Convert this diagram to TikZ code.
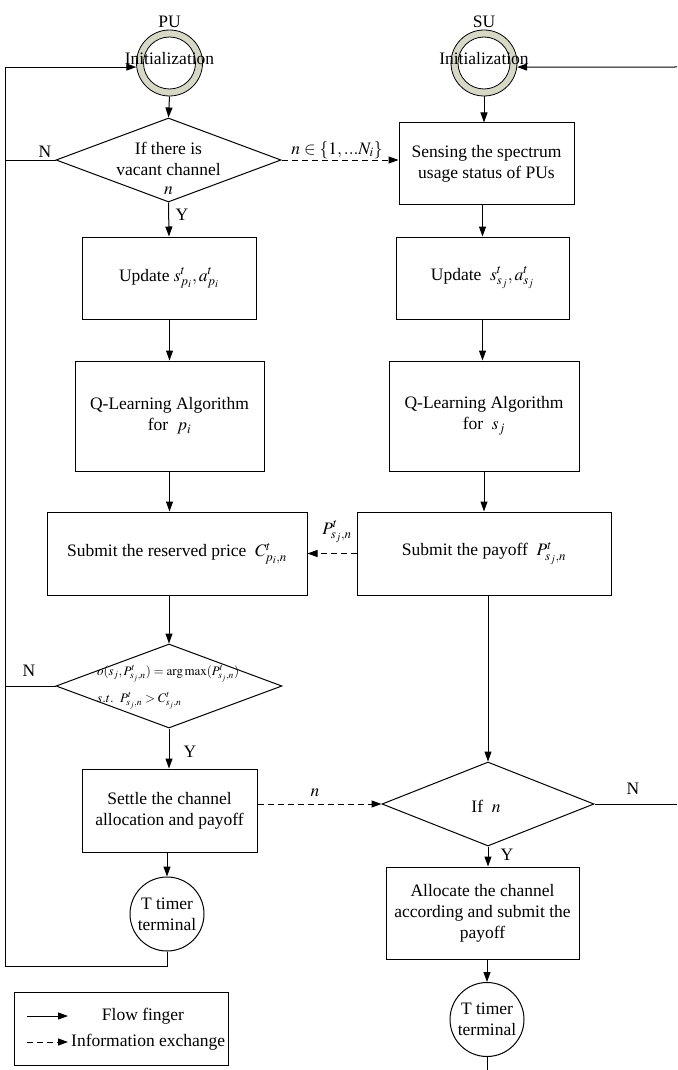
\documentclass[tikz,border=0pt]{standalone}
\usepackage{mathptmx}
\usepackage{fontspec}
\setmainfont{Liberation Serif}
\usetikzlibrary{shapes.geometric,arrows.meta,calc}
\definecolor{ringc}{HTML}{D8D8C6}
\begin{document}
\begin{tikzpicture}[x=1pt,y=-1pt,
  every node/.style={font=\fontsize{17.5}{21}\selectfont},
  ln/.style={line width=1pt},
  arr/.style={ln,-{Triangle[length=10pt,width=7pt]}},
  dsh/.style={arr,dash pattern=on 6pt off 4pt},
  stepbox/.style={draw,line width=1pt,align=center,inner sep=0pt},
  dia/.style={draw,diamond,line width=1pt,inner sep=0pt},
  ringout/.style={circle,draw,fill=ringc,minimum size=66pt,inner sep=0pt,line width=0.8pt},
  ringin/.style={circle,draw,fill=white,minimum size=52pt,inner sep=0pt,line width=0.8pt},
  term/.style={circle,draw,line width=1pt,minimum size=74pt,inner sep=0pt,align=center},
  lbl/.style={inner sep=0pt}]
\path[use as bounding box] (0,0) rectangle (677,1070);

% titles
\node[lbl] (pu) at (169.5,22) {PU};
\node[lbl] (su) at (484,22) {SU};

% initialization rings
\node[ringout] (pinit) at (169.5,63) {};
\node[ringin] (pinitin) at (169.5,63) {};
\node[lbl,anchor=base] (pinitt) at (169.5,64.5) {Initialization};
\node[ringout] (sinit) at (484,63) {};
\node[ringin] (sinitin) at (484,63) {};
\node[lbl,anchor=base] (sinitt) at (484,64.5) {Initialization};

% PU column
\node[dia,minimum width=225pt,minimum height=84pt] (d1) at (168.5,160) {};
\node[lbl,align=center] (d1t) at (168.5,159) {If there is\\vacant channel};
\node[lbl] (d1n) at (168.5,191) {$n$};
\node[stepbox,minimum width=174pt,minimum height=82pt] (updp) at (169,278) {Update $s^t_{p_i},a^t_{p_i}$};
\node[stepbox,minimum width=189pt,minimum height=110pt] (qp) at (169.5,416) {Q-Learning Algorithm\\for \ $p_i$};
\node[stepbox,minimum width=260pt,minimum height=83pt] (resv) at (177,553.5) {Submit the reserved price \ $C^t_{p_i,n}$};
\node[dia,minimum width=226pt,minimum height=84pt] (d2) at (169,686) {};
\node[lbl,align=left,anchor=west,font=\fontsize{13}{27}\selectfont] (d2t) at (97,687.5) {$o(s_j,P^t_{s_j,n})=\arg\max(P^t_{s_j,n})$\\$s.t.\ \ P^t_{s_j,n}>C^t_{s_j,n}$};
\node[stepbox,minimum width=175pt,minimum height=83pt] (settle) at (169.5,810.5) {Settle the channel\\allocation and payoff};
\node[term] (pterm) at (167,914) {T timer\\terminal};

% SU column
\node[stepbox,minimum width=175pt,minimum height=81pt] (sens) at (486.5,163.5) {Sensing the spectrum\\usage status of PUs};
\node[stepbox,minimum width=173pt,minimum height=82pt] (upds) at (482.5,278) {Update \ $s^t_{s_j},a^t_{s_j}$};
\node[stepbox,minimum width=190pt,minimum height=110pt] (qs) at (484,416) {Q-Learning Algorithm\\for \ $s_j$};
\node[stepbox,minimum width=254pt,minimum height=83pt] (payo) at (484,553.5) {Submit the payoff \ $P^t_{s_j,n}$};
\node[dia,minimum width=212pt,minimum height=84pt] (d3) at (488,804) {};
\node[lbl] (d3t) at (486,806) {If \ $n$};
\node[stepbox,minimum width=193pt,minimum height=92pt] (alloc) at (482.5,913) {Allocate the channel\\according and submit the\\payoff};
\node[term] (sterm) at (487,1019.5) {T timer\\terminal};

% labels
\node[lbl] (n1) at (45,152) {N};
\node[lbl] (y1) at (182,215) {Y};
\node[lbl] (nset) at (337,150) {$n\in\{1,...N_i\}$};
\node[lbl] (pl) at (337,532) {$P^t_{s_j,n}$};
\node[lbl] (n2) at (29,671) {N};
\node[lbl] (y2) at (190,752) {Y};
\node[lbl] (nl) at (315,793) {$n$};
\node[lbl] (n3) at (633,789) {N};
\node[lbl] (y3) at (507,855) {Y};

% coordinates for the loops
\coordinate (lb) at (5.6,966);
\coordinate (rt) at (677,67);
\coordinate (bot) at (487,1070);

% PU flow
\draw[arr] (pinit.south) -- (d1.north);
\draw[arr] (d1.south) -- (updp.north);
\draw[arr] (updp.south) -- (qp.south |- updp.south) -- (qp.north);
\draw[arr] (qp.south) -- (qp.south |- resv.north);
\draw[arr] (d2.north |- resv.south) -- (d2.north);
\draw[arr] (d2.south) -- (d2.south |- settle.north);
\draw[arr] (pterm.north |- settle.south) -- (pterm.north);
\draw[arr] (pterm.south) |- (lb) |- (pinit.187);
\draw[ln] (d1.west) -- (d1.west -| lb);
\draw[ln] (d2.west) -- (d2.west -| lb);

% SU flow
\draw[arr] (sinit.south) -- (sinit.south |- sens.north);
\draw[arr] (upds.north |- sens.south) -- (upds.north);
\draw[arr] (upds.south) -- (upds.south |- qs.north);
\draw[arr] (qs.south) -- (qs.south |- payo.north);
\draw[arr] (d3.north |- payo.south) -- (d3.north);
\draw[arr] (d3.south) -- (d3.south |- alloc.north);
\draw[arr] (sterm.north |- alloc.south) -- (sterm.north);
\draw[ln] (sterm.south) -- (bot);
\draw[ln] (d3.east) -- (d3.east -| rt);
\draw[arr] (rt) -- (sinit.353);

% information exchange
\draw[dsh] (d1.east) -- (d1.east -| sens.west);
\draw[dsh] (payo.west) -- (payo.west -| resv.east);
\draw[dsh] (d3.west -| settle.east) -- (d3.west);

% legend
\node[draw,line width=1pt,minimum width=214pt,minimum height=73pt,inner sep=0pt] (leg) at (121,1028.5) {};
\coordinate (la1) at (27,1016);
\coordinate (la2) at (68,1016);
\coordinate (lb1) at (27,1042);
\coordinate (lb2) at (68,1042);
\draw[arr] (la1) -- (la2);
\draw[dsh] (lb1) -- (lb2);
\node[lbl] (legt1) at (143,1016) {Flow finger};
\node[lbl,anchor=west] (legt2) at (71,1042) {Information exchange};
\end{tikzpicture}
\end{document}
